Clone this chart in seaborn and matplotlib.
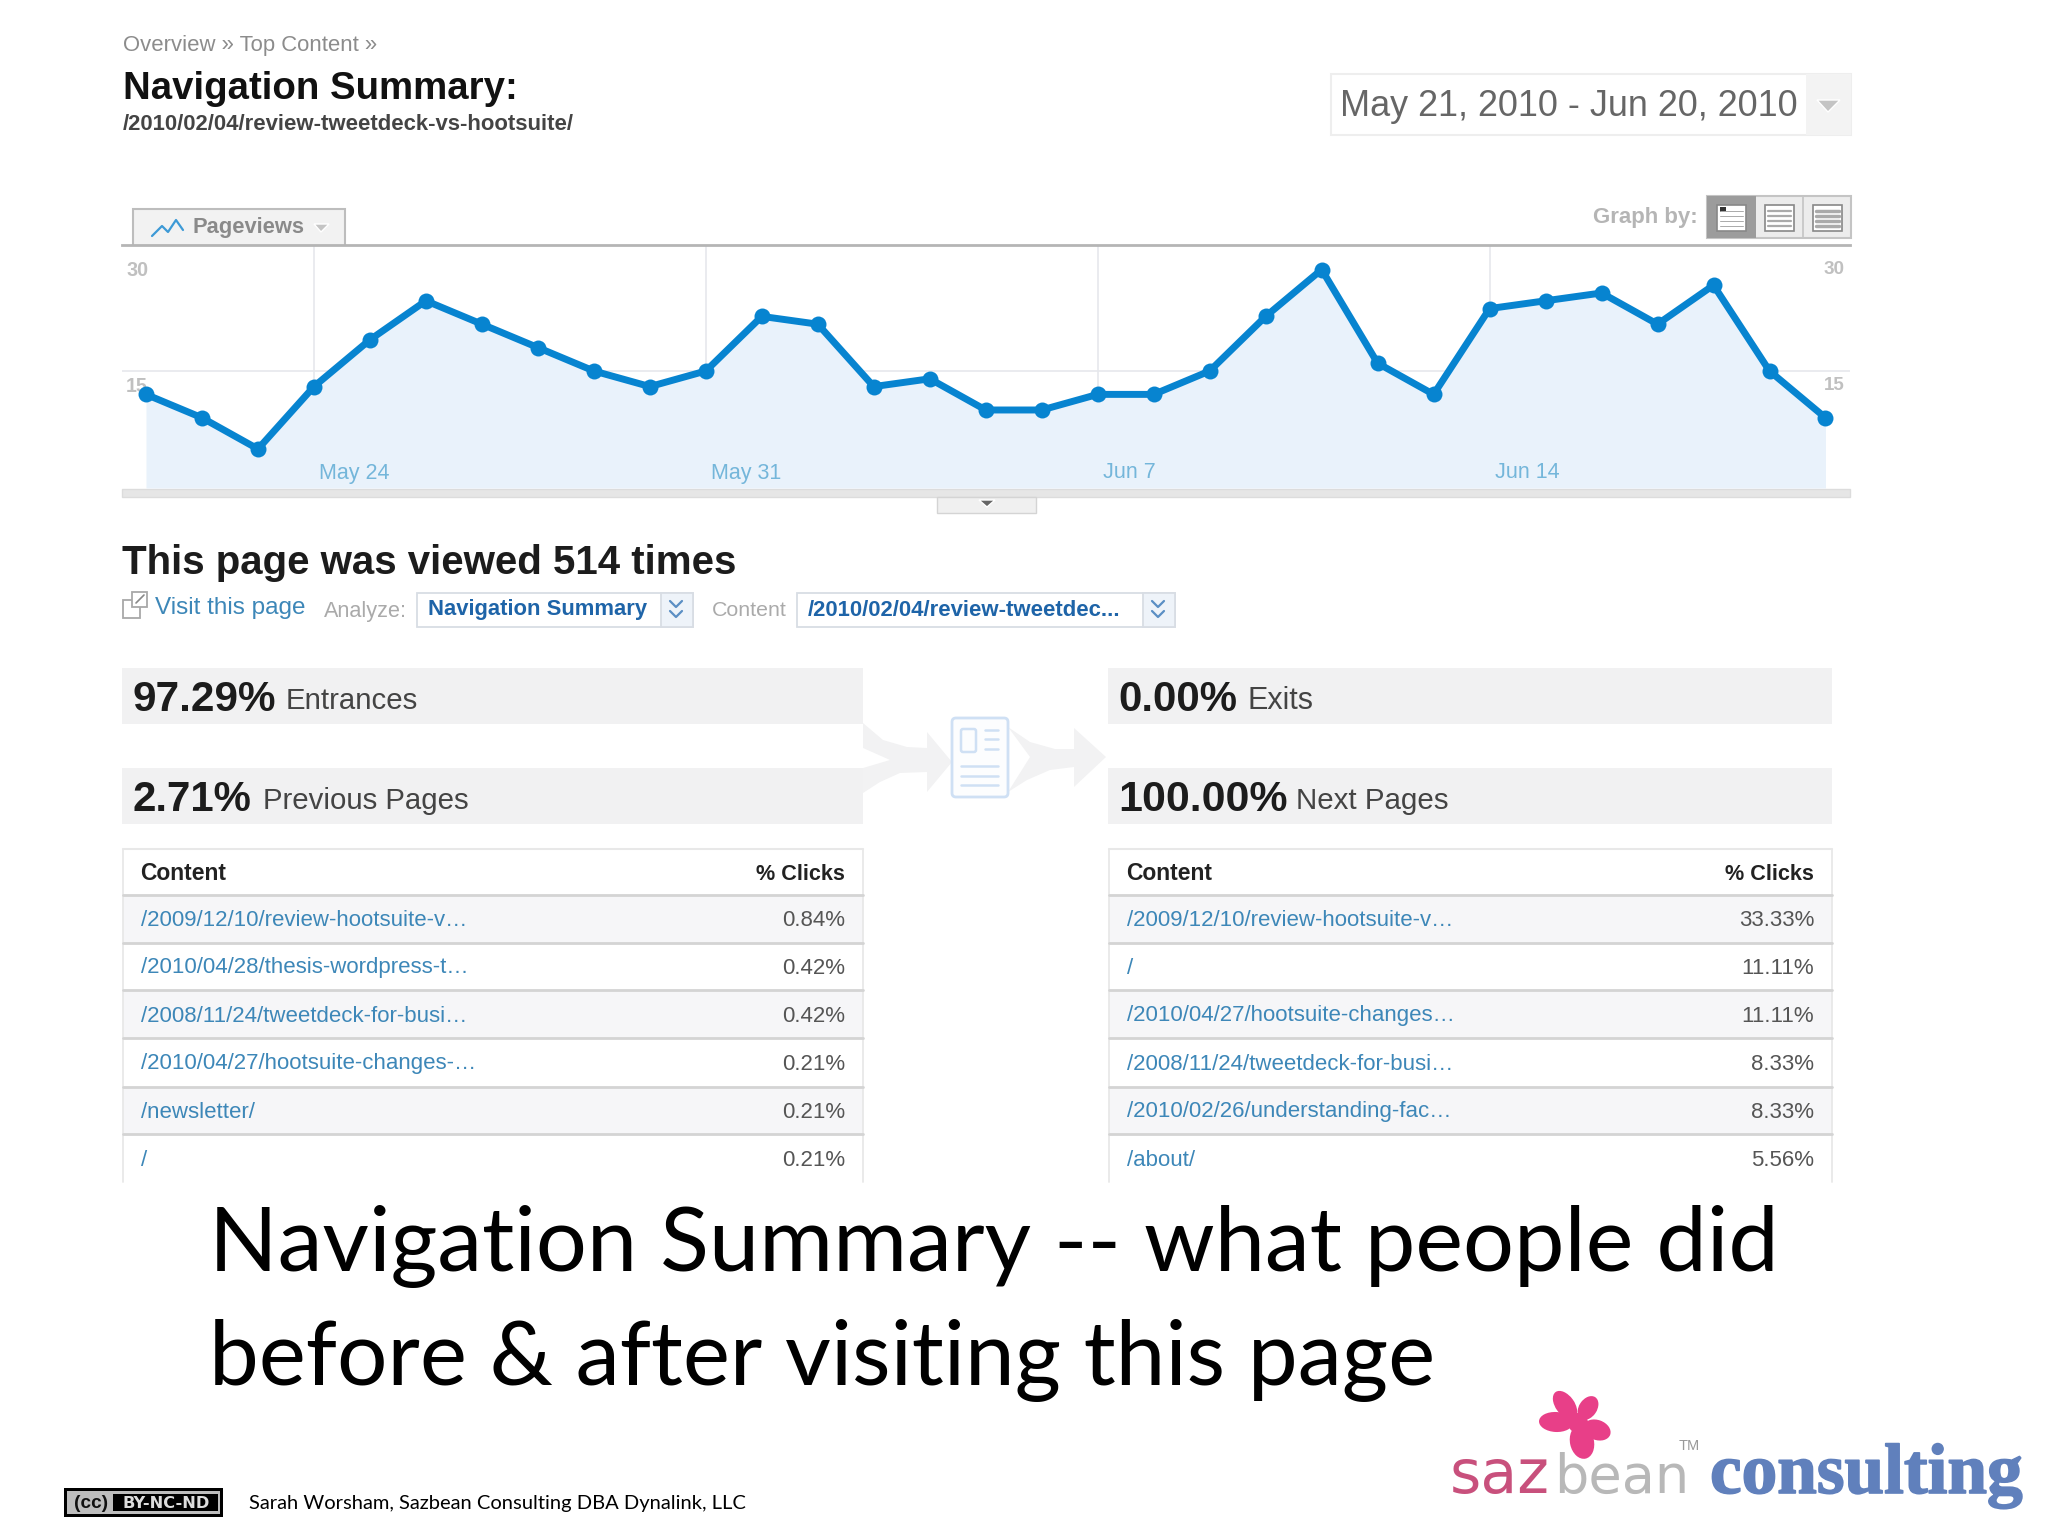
import seaborn as sns
import matplotlib.pyplot as plt
import matplotlib.patheffects as pe
from matplotlib.patches import Rectangle, Polygon, Ellipse, FancyBboxPatch
import pandas as pd

sns.set_theme(style="white")
plt.rcParams['font.family'] = ['Liberation Sans', 'DejaVu Sans']

# chart data
pageviews = [12, 9, 5, 13, 19, 24, 21, 18, 15, 13, 15, 22, 21, 13, 14, 10,
             10, 12, 12, 15, 22, 28, 16, 12, 23, 24, 25, 21, 26, 15, 9]
days = list(range(31))
tick_days = [3, 10, 17, 24]
tick_labels = ["May 24", "May 31", "Jun 7", "Jun 14"]

# table data
prev_pages = ["/2009/12/10/review-hootsuite-v…", "/2010/04/28/thesis-wordpress-t…",
              "/2008/11/24/tweetdeck-for-busi…", "/2010/04/27/hootsuite-changes-…",
              "/newsletter/", "/"]
prev_clicks = ["0.84%", "0.42%", "0.42%", "0.21%", "0.21%", "0.21%"]
next_pages = ["/2009/12/10/review-hootsuite-v…", "/", "/2010/04/27/hootsuite-changes…",
              "/2008/11/24/tweetdeck-for-busi…", "/2010/02/26/understanding-fac…", "/about/"]
next_clicks = ["33.33%", "11.11%", "11.11%", "8.33%", "8.33%", "5.56%"]
row_y = [918, 966, 1014, 1062, 1110, 1158]
row_lines = [895, 943, 990, 1038, 1087, 1134, 1182]

LINK = "#3d87b8"
ICON = "#cfe0f4"
ARROW = "#f2f2f3"

fig = plt.figure(figsize=(20.48, 15.36), dpi=100, facecolor="white")

# background axes in pixel coordinates for the page chrome
bg = fig.add_axes([0, 0, 1, 1])
bg.set_xlim(0, 2048)
bg.set_ylim(1536, 0)
bg.axis("off")


def txt(x, y, s, size=16, color="#333333", weight="normal", ha="left", family=None, va="center", **kw):
    fam = family if family else ['Liberation Sans', 'DejaVu Sans']
    return bg.text(x, y, s, fontsize=size, color=color, fontweight=weight, ha=ha,
                   va=va, family=fam, **kw)


def fit(x0, x1, y, s, size=16, **kw):
    # scale the font so the text spans x0..x1 pixels
    t = txt(x0, y, s, size=size, **kw)
    w = t.get_window_extent(fig.canvas.get_renderer()).width
    t.set_fontsize(size * (x1 - x0) / w)
    return t


def box(x0, y0, x1, y1, fc="none", ec="none", lw=1, **kw):
    bg.add_patch(Rectangle((x0, y0), x1 - x0, y1 - y0, facecolor=fc, edgecolor=ec, linewidth=lw, **kw))


# header
fit(123, 377, 46, "Overview » Top Content »", color="#8c8c8c")
fit(123, 518, 89, "Navigation Summary:", size=28, color="#111111", weight="bold")
fit(123, 574, 124, "/2010/02/04/review-tweetdeck-vs-hootsuite/", size=16, color="#444444", weight="bold")

# date picker
box(1331, 74, 1851, 135, fc="#ffffff", ec="#eeeeee", lw=1.5)
box(1806, 74, 1851, 135, fc="#f3f3f3")
fit(1340, 1799, 107, "May 21, 2010 - Jun 20, 2010", size=28, color="#666666")
bg.add_patch(Polygon([[1817, 100], [1840, 100], [1828, 112]], fc="#c4c4c4"))

# tab and graph-by buttons
bg.add_patch(Polygon([[133, 245], [133, 209], [345, 209], [345, 245]], closed=False, fc="#f2f2f2", ec="#bdbdbd", lw=1.5))
fit(192, 304, 228, "Pageviews", size=16, color="#8a8a8a", weight="bold")
bg.add_patch(Polygon([[314, 224], [329, 224], [321, 232]], fc="#c4c4c4"))
bg.plot([152, 162, 168, 176, 183], [236, 226, 232, 220, 230], color="#3d9ad6", lw=1.6)
fit(1593, 1698, 218, "Graph by:", size=16, color="#b5b5b5", weight="bold")
box(1707, 196, 1851, 238, fc="#ececec", ec="#c4c4c4", lw=1.5)
box(1707, 196, 1756, 238, fc="#9c9c9c")
bg.plot([1803, 1803], [196, 238], color="#c4c4c4", lw=1.2)
for x0, n in [(1717, 0), (1765, 1), (1813, 2)]:
    box(x0, 205, x0 + 29, 231, fc="white", ec="#888888", lw=1.2)
    for k in range(4):
        bg.plot([x0 + 3, x0 + 26], [211 + k * 5, 211 + k * 5], color="#aaaaaa", lw=0.7 + n * 0.9)
box(1720, 207, 1726, 212, fc="#333333")

# line chart axes
ax = fig.add_axes([122 / 2048, 1 - 488 / 1536, (1850 - 122) / 2048, (488 - 245) / 1536])
ax.patch.set_alpha(0)
df = pd.DataFrame({"day": days, "pageviews": pageviews})
ax.fill_between(days, pageviews, 0, color="#e9f2fb", lw=0, zorder=1)
sns.lineplot(data=df, x="day", y="pageviews", ax=ax, color="#0784d0", lw=5, marker="o",
             markersize=11.5, markeredgewidth=0, clip_on=False, zorder=3)
ax.set_xlim(-24 / 55.98, 30 + 24.5 / 55.98)
ax.set_ylim(0, 31.15)
ax.set_xticks(tick_days, labels=[""] * len(tick_days))
ax.set_yticks([15], labels=[""])
ax.grid(True, color="#e6e8ec", lw=1.2)
for line in ax.get_xgridlines() + ax.get_ygridlines():
    line.set_zorder(2)
ax.tick_params(length=0)
# date labels sit inside the plot, just right of their gridline
for day, label in zip(tick_days, tick_labels):
    ax.annotate(label, (day, 0), xytext=(5, 15), textcoords="offset pixels", fontsize=15.5,
                color="#74b6da", ha="left", va="center", zorder=4)
ax.set_xlabel("")
ax.set_ylabel("")
for name in ["left", "right", "bottom"]:
    ax.spines[name].set_visible(False)
ax.spines["top"].set_color("#b5b5b5")
ax.spines["top"].set_linewidth(2)

# axis numbers drawn on the page behind the chart
for x0, x1 in [(126, 148), (1824, 1845)]:
    fit(x0, x1, 270, "30", size=14, color="#c0c0c0", weight="bold")
    fit(x0, x1, 386, "15", size=14, color="#c0c0c0", weight="bold")

# bar under the chart
box(122, 489, 1850, 497, fc="#e6e6e6", ec="#dcdcdc", lw=1)
box(937, 497, 1036, 513, fc="#f0f0f0", ec="#d4d4d4", lw=1)
bg.add_patch(Polygon([[979, 500], [995, 500], [987, 507]], fc="#666666"))

# page heading and selectors
fit(122, 737, 563, "This page was viewed 514 times", size=30, color="#1c1c1c", weight="bold")
box(123, 600, 140, 618, ec="#a8a8a8", lw=1.3)
box(132, 592, 147, 607, fc="white", ec="#a8a8a8", lw=1.3)
bg.plot([136, 144], [603, 595], color="#888888", lw=1.2)
fit(155, 305, 608, "Visit this page", size=18, color=LINK)
fit(324, 407, 611, "Analyze:", size=16, color="#aaaaaa")
box(417, 593, 693, 627, fc="white", ec="#d8dde4", lw=1.3)
box(661, 593, 693, 627, fc="#eef3f9", ec="#d8dde4", lw=1.3)
fit(428, 647, 610, "Navigation Summary", size=16, color="#1e64a8", weight="bold")
fit(712, 787, 611, "Content", size=16, color="#aaaaaa")
box(797, 593, 1175, 627, fc="white", ec="#d8dde4", lw=1.3)
box(1143, 593, 1175, 627, fc="#eef3f9", ec="#d8dde4", lw=1.3)
fit(808, 1121, 610, "/2010/02/04/review-tweetdec...", size=16, color="#1e64a8", weight="bold")
for cx in [676, 1158]:
    for y0 in [601, 611]:
        bg.plot([cx - 6, cx, cx + 6], [y0, y0 + 6, y0], color="#5b8fc4", lw=1.6)

# flow arrows and page icon
bg.add_patch(Polygon([[863, 723], [883, 740], [907, 747], [927, 748], [927, 732], [952, 762], [927, 792],
                      [927, 772], [900, 773], [880, 782], [863, 793], [863, 768], [890, 760], [863, 748]],
                     fc=ARROW, ec="none"))
bg.add_patch(Polygon([[1008, 727], [1030, 742], [1055, 749], [1074, 749], [1074, 728], [1106, 757], [1074, 787],
                      [1074, 767], [1050, 770], [1027, 780], [1008, 792], [1030, 757]], fc=ARROW, ec="none"))
bg.add_patch(FancyBboxPatch((952, 718), 56, 79, boxstyle="round,pad=0,rounding_size=4", fc="#fcfdfe",
                            ec=ICON, lw=2))
bg.add_patch(FancyBboxPatch((961, 729), 15, 23, boxstyle="round,pad=0,rounding_size=2", fc="none",
                            ec=ICON, lw=1.8))
for y0 in [730, 739, 749]:
    bg.plot([985, 998], [y0, y0], color=ICON, lw=1.8)
for y0 in [766, 776, 785]:
    bg.plot([961, 998], [y0, y0], color=ICON, lw=1.8)

# summary bars
box(122, 668, 863, 724, fc="#f1f1f2")
box(122, 768, 863, 824, fc="#f1f1f2")
box(1108, 668, 1832, 724, fc="#f1f1f2")
box(1108, 768, 1832, 824, fc="#f1f1f2")
for x0, x1, y, s in [(132, 275, 700, "97.29%"), (132, 251, 800, "2.71%"),
                     (1118, 1237, 700, "0.00%"), (1118, 1287, 800, "100.00%")]:
    fit(x0, x1, y, s, size=30, color="#1c1c1c", weight="bold")
for x0, x1, y, s in [(286, 418, 701, "Entrances"), (263, 468, 801, "Previous Pages"),
                     (1247, 1313, 701, "Exits"), (1296, 1448, 801, "Next Pages")]:
    fit(x0, x1, y, s, size=22, color="#444444")

# the two tables
for x0, x1, pages, clicks in [(123, 863, prev_pages, prev_clicks), (1109, 1832, next_pages, next_clicks)]:
    for top, bottom in [(895, 943), (990, 1038), (1087, 1134)]:
        box(x0, top, x1, bottom, fc="#f6f6f8")
    bg.plot([x0, x1], [849, 849], color="#e8e8e8", lw=1.5)
    bg.plot([x0, x0], [849, 1182], color="#e8e8e8", lw=1.3)
    bg.plot([x1, x1], [849, 1182], color="#e8e8e8", lw=1.3)
    txt(x0 + 17, 874, "Content", size=16.5, color="#222222", weight="bold")
    txt(x1 - 18, 874, "% Clicks", size=15.6, color="#222222", weight="bold", ha="right")
    for y0 in row_lines[:-1]:
        bg.plot([x0, x1], [y0, y0], color="#d4d4d4", lw=2)
    for y0, page, click in zip(row_y, pages, clicks):
        txt(x0 + 18, y0 + 2, page, size=16, color=LINK)
        txt(x1 - 18, y0 + 2, click, size=16, color="#555555", ha="right")

# slide caption
fit(209, 1779, 1247, "Navigation Summary -- what people did", size=70, color="#000000", family=["Lato"])
fit(209, 1436, 1361, "before & after visiting this page", size=70, color="#000000", family=["Lato"])

# footer
box(64, 1488, 223, 1517, fc="#000000")
box(67, 1491, 220, 1514, fc="#bdbdbd")
box(113, 1494, 218, 1511, fc="#000000")
fit(74, 108, 1503, "(cc)", size=14, color="#111111", weight="bold")
fit(122, 209, 1503, "BY-NC-ND", size=12, color="#dddddd", weight="bold", family=["DejaVu Sans"])
fit(249, 750, 1504, "Sarah Worsham, Sazbean Consulting DBA Dynalink, LLC", size=16, color="#000000", family=["Lato"])

# logo
for cx, cy, w, h, ang in [(1565, 1405, 19, 32, -36), (1588, 1408, 18, 26, 34), (1597, 1430, 20, 28, -70),
                          (1582, 1442, 24, 34, -12), (1556, 1422, 20, 34, -87), (1578, 1423, 20, 20, 0)]:
    bg.add_patch(Ellipse((cx, cy), w, h, angle=ang, fc="#e83f88", ec="none"))
fit(1450, 1550, 1493, "saz", size=40, color="#c8507c", family=["DejaVu Sans"], va="baseline")
fit(1554, 1689, 1493, "bean", size=40, color="#b8b8b8", family=["DejaVu Sans"], va="baseline")
cons = fit(1710, 2023, 1493, "consulting", size=44, color="#6080bc", family=["Liberation Serif"], weight="bold", va="baseline")
cons.set_path_effects([pe.withStroke(linewidth=1.2, foreground="#6080bc")])
fit(1679, 1700, 1446, "TM", size=10, color="#999999")

fig.savefig("out.png", dpi=100)
